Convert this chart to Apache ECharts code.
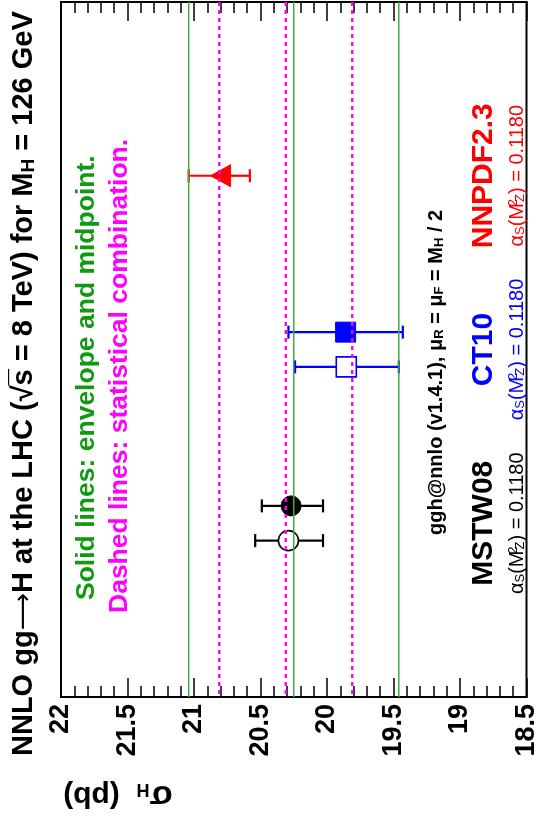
<!DOCTYPE html>
<html>
<head>
<meta charset="utf-8">
<script src="https://cdn.jsdelivr.net/npm/echarts@6/dist/echarts.min.js"></script>
<style>
  html, body { margin: 0; padding: 0; background: #fff; }
  #main { width: 540px; height: 816px; }
</style>
</head>
<body>
<div id="main"></div>
<script>
// PDF sets, one row each on the vertical scale
const pdfNames = ['MSTW08', 'CT10', 'NNPDF2.3'];
const pdfRows = [1, 2, 3];
const alphaSValues = ['0.1180', '0.1180', '0.1180'];

// Filled markers: central cross section and interval ends (pb)
const filledCentral = [20.27, 19.86, 20.80];
const filledUpper = [20.49, 20.29, 21.04];
const filledLower = [20.03, 19.43, 20.58];

// Open markers (MSTW08 and CT10 only)
const openCentral = [20.29, 19.855];
const openUpper = [20.54, 20.24];
const openLower = [20.03, 19.46];

// Envelope (upper, midpoint, lower) and statistical combination (upper, central, lower)
const envelopeLines = [21.04, 20.25, 19.46];
const combinationLines = [20.81, 20.31, 19.81];

// Cross-section axis
const sigmaMin = 18.5;
const sigmaMax = 22;
const sigmaStep = 0.5;

const FONT = 'Liberation Sans, Arial, Helvetica, sans-serif';
const pdfColors = ['#000000', '#0000ff', '#ff0000'];
const pdfShapes = ['circle', 'square', 'triangle'];
const rowShift = 0.1;

function markerRender(hollow) {
  return function (params, api) {
    const y = api.value(3);
    const pdf = api.value(4);
    const color = pdfColors[pdf];
    const c = api.coord([api.value(0), y]);
    const hi = api.coord([api.value(1), y]);
    const lo = api.coord([api.value(2), y]);
    const r = 10;
    const capH = 6.5;
    const gap = hollow ? r : 0;
    const lw = 2.2;
    const children = [
      { type: 'line', shape: { x1: hi[0], y1: c[1], x2: c[0] - gap, y2: c[1] }, style: { stroke: color, lineWidth: lw } },
      { type: 'line', shape: { x1: c[0] + gap, y1: c[1], x2: lo[0], y2: c[1] }, style: { stroke: color, lineWidth: lw } },
      { type: 'line', shape: { x1: hi[0], y1: c[1] - capH, x2: hi[0], y2: c[1] + capH }, style: { stroke: color, lineWidth: lw } },
      { type: 'line', shape: { x1: lo[0], y1: c[1] - capH, x2: lo[0], y2: c[1] + capH }, style: { stroke: color, lineWidth: lw } }
    ];
    const mStyle = hollow
      ? { fill: 'none', stroke: color, lineWidth: 1.6 }
      : { fill: color, stroke: color, lineWidth: 1 };
    const shape = pdfShapes[pdf];
    if (shape === 'circle') {
      children.push({ type: 'circle', shape: { cx: c[0], cy: c[1], r: r }, style: mStyle });
    } else if (shape === 'square') {
      children.push({ type: 'rect', shape: { x: c[0] - r, y: c[1] - r, width: 2 * r, height: 2 * r }, style: mStyle });
    } else {
      children.push({ type: 'polygon', shape: { points: [[c[0] - r, c[1]], [c[0] + r, c[1] - 11], [c[0] + r, c[1] + 11]] }, style: mStyle });
    }
    return { type: 'group', children: children };
  };
}

function vLineRender(color, width, dash) {
  return function (params, api) {
    const v = api.value(0);
    const top = api.coord([v, 4]);
    const bottom = api.coord([v, 0]);
    return {
      type: 'line',
      shape: { x1: top[0], y1: top[1], x2: bottom[0], y2: bottom[1] },
      style: { stroke: color, lineWidth: width, lineDash: dash || null }
    };
  };
}

const filledData = pdfNames.map((_, i) => [
  filledCentral[i], filledUpper[i], filledLower[i],
  pdfRows[i] + (i < openCentral.length ? rowShift : 0), i
]);
const openData = openCentral.map((v, i) => [
  v, openUpper[i], openLower[i], pdfRows[i] - rowShift, i
]);

const sigmaAxis = {
  type: 'value',
  min: sigmaMin,
  max: sigmaMax,
  interval: sigmaStep,
  inverse: true,
  splitLine: { show: false },
  axisLine: { show: true, onZero: false, lineStyle: { color: '#000', width: 2 } },
  axisTick: { show: true, inside: true, length: 19, lineStyle: { color: '#000', width: 1.5 } },
  minorTick: { show: true, splitNumber: 5, length: 11, lineStyle: { color: '#000', width: 1.5 } },
  minorSplitLine: { show: false }
};

const chart = echarts.init(document.getElementById('main'), null, { renderer: 'canvas' });

chart.setOption({
  animation: false,
  backgroundColor: '#ffffff',
  grid: { left: 61, right: 10, top: 2, bottom: 119, show: true, borderColor: '#000', borderWidth: 2, containLabel: false },
  xAxis: [
    Object.assign({}, sigmaAxis, {
      position: 'bottom',
      axisLabel: {
        show: true, rotate: 90, margin: 7, color: '#000',
        fontSize: 27, fontWeight: 'bold', fontFamily: FONT,
        showMinLabel: true, showMaxLabel: true
      }
    }),
    Object.assign({}, sigmaAxis, {
      position: 'top',
      axisLabel: { show: false }
    })
  ],
  yAxis: { type: 'value', min: 0, max: 4, show: false },
  series: [
    {
      type: 'custom', name: 'filled', xAxisIndex: 0, yAxisIndex: 0, z: 2,
      renderItem: markerRender(false), data: filledData,
      encode: { x: [0, 1, 2], y: 3 }
    },
    {
      type: 'custom', name: 'open', xAxisIndex: 0, yAxisIndex: 0, z: 2,
      renderItem: markerRender(true), data: openData,
      encode: { x: [0, 1, 2], y: 3 }
    },
    {
      type: 'custom', name: 'envelope', xAxisIndex: 0, yAxisIndex: 0, z: 3,
      renderItem: vLineRender('#44aa44', 1.5), data: envelopeLines.map(v => [v]),
      encode: { x: 0 }
    },
    {
      type: 'custom', name: 'combination', xAxisIndex: 0, yAxisIndex: 0, z: 4,
      renderItem: vLineRender('#ff00ff', 2.4, [4, 4]), data: combinationLines.map(v => [v]),
      encode: { x: 0 }
    }
  ]
});

// Rotated texts (reading bottom to top)
const UP = Math.PI / 2;

function rowY(row) {
  return chart.convertToPixel({ xAxisIndex: 0, yAxisIndex: 0 }, [20, row])[1];
}

const graphics = [];

// Title
graphics.push({
  type: 'text', x: 24, y: 756, rotation: UP,
  style: {
    text: '{t|NNLO gg}{a|\u27F6}{t|H at the LHC (\u221A}{t|s\u0305}{t| = 8 TeV) for M}{s|H}{t| = 126 GeV}',
    align: 'left', verticalAlign: 'middle',
    rich: {
      t: { fontSize: 29, fontWeight: 'bold', fontFamily: FONT, fill: '#000', lineHeight: 29 },
      a: { fontSize: 26, fontWeight: 'normal', fontFamily: 'DejaVu Sans, sans-serif', fill: '#000', lineHeight: 29 },
      s: { fontSize: 19, fontWeight: 'bold', fontFamily: FONT, fill: '#000', lineHeight: 9, verticalAlign: 'bottom' }
    }
  }
});

// Line legends
graphics.push({
  type: 'text', x: 87, y: 600, rotation: UP,
  style: {
    text: 'Solid lines: envelope and midpoint.',
    align: 'left', verticalAlign: 'middle',
    fontSize: 26.5, fontWeight: 'bold', fontFamily: FONT, fill: '#119911'
  }
});
graphics.push({
  type: 'text', x: 120, y: 613, rotation: UP,
  style: {
    text: 'Dashed lines: statistical combination.',
    align: 'left', verticalAlign: 'middle',
    fontSize: 26.5, fontWeight: 'bold', fontFamily: FONT, fill: '#ff00ff'
  }
});

// Program and scale choice
graphics.push({
  type: 'text', x: 436, y: 535, rotation: UP,
  style: {
    text: '{t|ggh@nnlo (v1.4.1), \u03BC}{s|R}{t| = \u03BC}{s|F}{t| = M}{s|H}{t| / 2}',
    align: 'left', verticalAlign: 'middle',
    rich: {
      t: { fontSize: 20, fontWeight: 'bold', fontFamily: FONT, fill: '#000', lineHeight: 20 },
      s: { fontSize: 13, fontWeight: 'bold', fontFamily: FONT, fill: '#000', lineHeight: 6, verticalAlign: 'bottom' }
    }
  }
});

// PDF set names and alpha_s values
pdfNames.forEach((name, i) => {
  const y = rowY(pdfRows[i]);
  const color = pdfColors[i];
  graphics.push({
    type: 'text', x: 484, y: y, rotation: UP,
    style: {
      text: name, align: 'center', verticalAlign: 'middle',
      fontSize: 30, fontWeight: 'bold', fontFamily: FONT, fill: color
    }
  });
  graphics.push({
    type: 'text', x: 517, y: y, rotation: UP,
    style: {
      text: '{t|\u03B1}{s|S}{t|(M}{p|2}{s|Z}{t|) = ' + alphaSValues[i] + '}',
      align: 'center', verticalAlign: 'middle',
      rich: {
        t: { fontSize: 20, fontFamily: FONT, fill: color, lineHeight: 20 },
        s: { fontSize: 13, fontFamily: FONT, fill: color, lineHeight: 6, verticalAlign: 'bottom' },
        p: { fontSize: 13, fontFamily: FONT, fill: color, lineHeight: 6, verticalAlign: 'top', width: 1 }
      }
    }
  });
});

// Axis title, turned upside down
graphics.push({
  type: 'text', x: 118, y: 795, rotation: Math.PI,
  style: {
    text: '{g|\u03C3}{s|H}{t|  (pb)}',
    align: 'center', verticalAlign: 'middle',
    rich: {
      g: { fontSize: 34, fontWeight: 'bold', fontFamily: FONT, fill: '#000', lineHeight: 30 },
      s: { fontSize: 18, fontWeight: 'bold', fontFamily: FONT, fill: '#000', lineHeight: 8, verticalAlign: 'bottom' },
      t: { fontSize: 30, fontWeight: 'bold', fontFamily: FONT, fill: '#000', lineHeight: 30 }
    }
  }
});

chart.setOption({ graphic: graphics });
</script>
</body>
</html>
